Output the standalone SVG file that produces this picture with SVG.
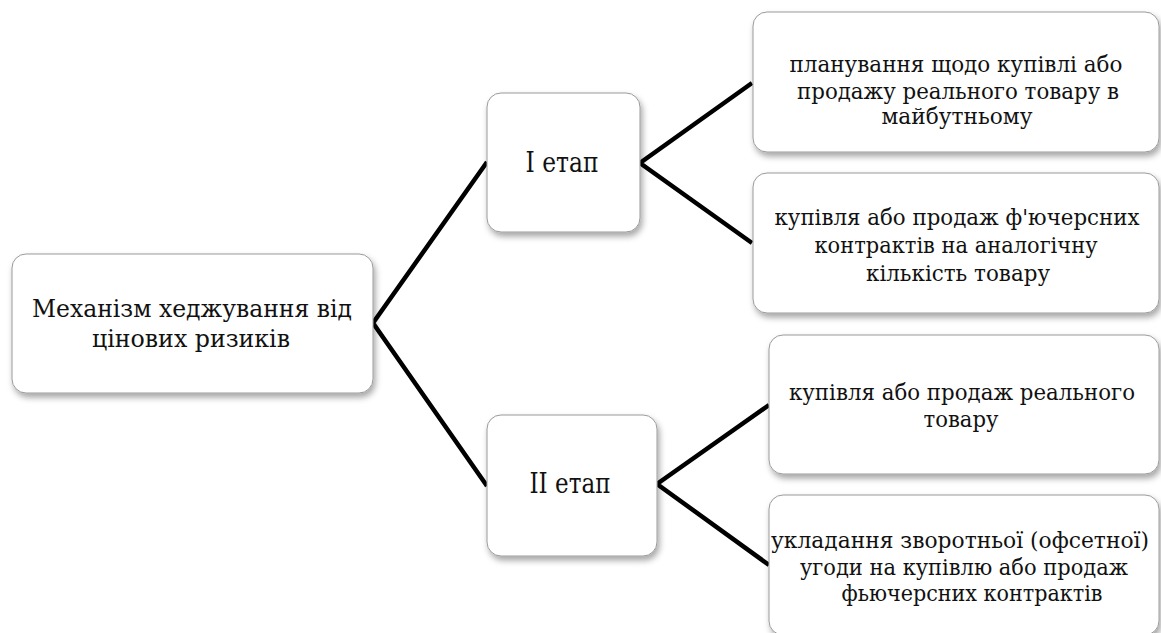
<svg xmlns="http://www.w3.org/2000/svg" width="1161" height="633" viewBox="0 0 1161 633">
<defs>
<filter id="sh" x="-10%" y="-10%" width="130%" height="140%">
<feDropShadow dx="2" dy="4" stdDeviation="3" flood-color="#000" flood-opacity="0.35"/>
</filter>
<style>
.box{fill:#fff;stroke:#9a9a9a;stroke-width:1;filter:url(#sh)}
.t{font-size:27px;fill:#111;text-anchor:middle}
.r{font-size:25px;fill:#111;text-anchor:middle}
.s{font-size:23px;fill:#111;text-anchor:middle}
.c{fill:none;stroke:#000;stroke-width:4.5;stroke-linejoin:miter}
</style>
</defs>
<rect width="1161" height="633" fill="#fff"/>
<g id="connectors">
<polyline class="c" points="487,162 373,323 487,486"/>
<polyline class="c" points="752,83 640,163 752,243"/>
<polyline class="c" points="769,405 657,484 769,565"/>
</g>
<g font-family="DejaVu Serif, serif">
<g id="root">
<rect class="box" x="12" y="254" width="361" height="139" rx="14"/>
<text class="r" x="192" y="317" textLength="320" lengthAdjust="spacingAndGlyphs">Механізм  хеджування від</text>
<text class="r" x="191" y="347" textLength="198" lengthAdjust="spacingAndGlyphs">цінових ризиків</text>
</g>
<g id="stage1">
<rect class="box" x="487" y="93" width="153" height="139" rx="14"/>
<text class="t" x="562" y="172" textLength="73" lengthAdjust="spacingAndGlyphs">I етап</text>
</g>
<g id="stage2">
<rect class="box" x="487" y="415" width="170" height="141" rx="14"/>
<text class="t" x="570" y="493" textLength="81" lengthAdjust="spacingAndGlyphs">II етап</text>
</g>
<g id="s1a">
<rect class="box" x="753" y="12" width="406" height="140" rx="14"/>
<text class="s" x="956" y="72" textLength="333" lengthAdjust="spacingAndGlyphs">планування  щодо купівлі або</text>
<text class="s" x="958" y="99" textLength="322" lengthAdjust="spacingAndGlyphs">продажу реального товару в</text>
<text class="s" x="957" y="124" textLength="151" lengthAdjust="spacingAndGlyphs">майбутньому</text>
</g>
<g id="s1b">
<rect class="box" x="753" y="173" width="406" height="140" rx="14"/>
<text class="s" x="957" y="225" textLength="365" lengthAdjust="spacingAndGlyphs">купівля або продаж ф'ючерсних</text>
<text class="s" x="956" y="253" textLength="283" lengthAdjust="spacingAndGlyphs">контрактів на аналогічну</text>
<text class="s" x="958" y="281" textLength="184" lengthAdjust="spacingAndGlyphs">кількість товару</text>
</g>
<g id="s2a">
<rect class="box" x="769" y="335" width="390" height="139" rx="14"/>
<text class="s" x="962" y="400" textLength="346" lengthAdjust="spacingAndGlyphs">купівля або продаж реального</text>
<text class="s" x="961" y="427" textLength="75" lengthAdjust="spacingAndGlyphs">товару</text>
</g>
<g id="s2b">
<rect class="box" x="769" y="495" width="390" height="140" rx="14"/>
<text class="s" x="960" y="548" textLength="378" lengthAdjust="spacingAndGlyphs">укладання  зворотньої (офсетної)</text>
<text class="s" x="964" y="575" textLength="328" lengthAdjust="spacingAndGlyphs">угоди на купівлю або продаж</text>
<text class="s" x="972" y="601" textLength="261" lengthAdjust="spacingAndGlyphs">фьючерсних контрактів</text>
</g>
</g>
</svg>
